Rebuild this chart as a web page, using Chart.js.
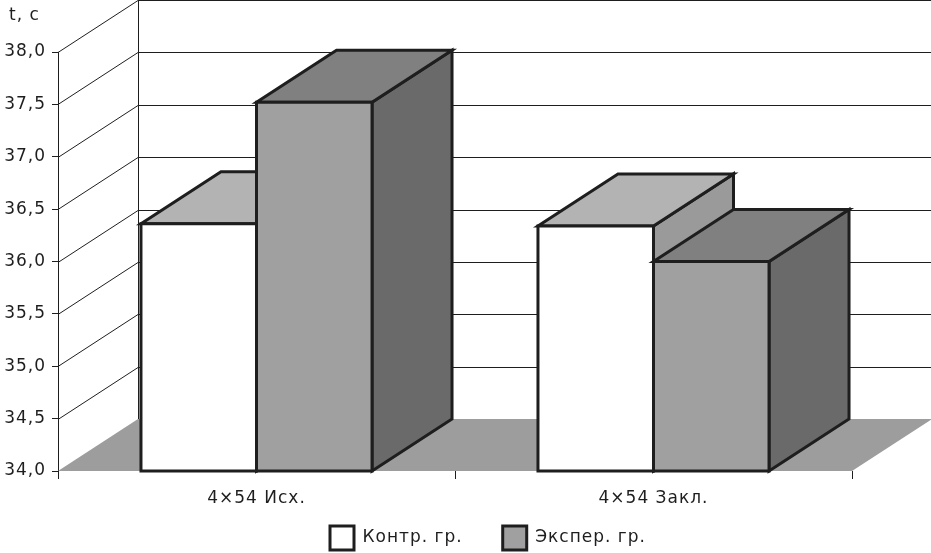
<!DOCTYPE html>
<html>
<head>
<meta charset="utf-8">
<script src="https://cdn.jsdelivr.net/npm/chart.js@4.4.0/dist/chart.umd.min.js"></script>
<style>
  html, body { margin: 0; padding: 0; background: #fff; }
</style>
</head>
<body>
<canvas id="chart" width="931" height="553"></canvas>
<script>
// data
const categories = ['4×54 Исх.', '4×54 Закл.'];
const seriesNames = ['Контр. гр.', 'Экспер. гр.'];
const controlGroup = [36.36, 36.34];
const experGroup = [37.52, 36.0];
const yTickLabels = ['34,0', '34,5', '35,0', '35,5', '36,0', '36,5', '37,0', '37,5', '38,0'];
const axisUnit = 't, c';

const FONT = '"DejaVu Sans", sans-serif';
const FSIZE = 17;
const INK = '#1e1e1e';
const SPACING = '1px';
const LEGEND_PAD = 40;
// depth of the fake 3d box
const DX = 80, DY = -52;
// front / top / side shades per series
const shades = [
  { front: '#ffffff', top: '#b3b3b3', side: '#9a9a9a' },
  { front: '#a0a0a0', top: '#808080', side: '#6a6a6a' }
];

function poly(ctx, pts, fill) {
  ctx.beginPath();
  ctx.moveTo(pts[0][0], pts[0][1]);
  for (let k = 1; k < pts.length; k++) ctx.lineTo(pts[k][0], pts[k][1]);
  ctx.closePath();
  ctx.fillStyle = fill;
  ctx.fill();
  ctx.stroke();
}

const box3d = {
  id: 'box3d',
  beforeUpdate(chart) { chart.ctx.letterSpacing = SPACING; },
  beforeDraw(chart) { chart.ctx.letterSpacing = SPACING; },
  afterLayout(chart) {
    // wide legend spacing: move it down/right and give the category labels room again
    const lg = chart.legend;
    lg.top += 7; lg.bottom += 7;
    lg.left += 62; lg.right += 62;
    const x = chart.scales.x;
    x.bottom = x.top + 40;
  },
  beforeDatasetsDraw(chart) {
    const { ctx, chartArea: a, scales: { y } } = chart;
    ctx.save();

    // floor
    ctx.fillStyle = '#9d9d9d';
    ctx.beginPath();
    ctx.moveTo(a.left, a.bottom);
    ctx.lineTo(a.right, a.bottom);
    ctx.lineTo(a.right + DX, a.bottom + DY);
    ctx.lineTo(a.left + DX, a.bottom + DY);
    ctx.closePath();
    ctx.fill();

    // side wall diagonals + back wall grid
    ctx.strokeStyle = INK;
    ctx.lineWidth = 1;
    y.ticks.forEach(t => {
      if (t.value <= y.min) return;
      const py = Math.round(y.getPixelForValue(t.value)) + 0.5;
      ctx.beginPath();
      ctx.moveTo(a.left, py);
      ctx.lineTo(a.left + DX, py + DY);
      ctx.lineTo(a.right + DX, py + DY);
      ctx.stroke();
    });
    ctx.beginPath();
    ctx.moveTo(a.left + DX + 0.5, a.top + DY);
    ctx.lineTo(a.left + DX + 0.5, a.bottom + DY);
    ctx.moveTo(a.right + DX - 0.5, a.top + DY);
    ctx.lineTo(a.right + DX - 0.5, a.bottom + DY);
    ctx.stroke();

    // boxes, left to right so the nearer faces cover the others
    ctx.lineWidth = 3;
    ctx.lineJoin = 'miter';
    ctx.strokeStyle = INK;
    const metas = chart.data.datasets.map((d, i) => chart.getDatasetMeta(i));
    chart.data.labels.forEach((lbl, j) => {
      metas.forEach((m, i) => {
        const el = m.data[j];
        const x0 = el.x - el.width / 2, x1 = el.x + el.width / 2;
        const yt = el.y, yb = Math.min(el.base, a.bottom);
        const s = shades[i];
        poly(ctx, [[x1, yt], [x1 + DX, yt + DY], [x1 + DX, yb + DY], [x1, yb]], s.side);
        poly(ctx, [[x0, yt], [x1, yt], [x1 + DX, yt + DY], [x0 + DX, yt + DY]], s.top);
        poly(ctx, [[x0, yt], [x1, yt], [x1, yb], [x0, yb]], s.front);
      });
    });

    // unit label over the value axis
    ctx.fillStyle = INK;
    ctx.font = FSIZE + 'px ' + FONT;
    ctx.textAlign = 'left';
    ctx.textBaseline = 'alphabetic';
    ctx.fillText(axisUnit, 9, 20);

    ctx.restore();
    return false;
  }
};

new Chart(document.getElementById('chart'), {
  type: 'bar',
  data: {
    labels: categories,
    datasets: [
      { label: seriesNames[0], data: controlGroup, backgroundColor: shades[0].front, borderColor: INK, borderWidth: 3 },
      { label: seriesNames[1], data: experGroup, backgroundColor: shades[1].front, borderColor: INK, borderWidth: 3 }
    ]
  },
  options: {
    responsive: false,
    animation: false,
    devicePixelRatio: 1,
    layout: { padding: { top: 52, right: 79, left: 0, bottom: 0 } },
    datasets: { bar: { categoryPercentage: 0.582, barPercentage: 1 } },
    plugins: {
      tooltip: { enabled: false },
      legend: {
        position: 'bottom',
        labels: {
          boxWidth: 24,
          boxHeight: 24,
          padding: LEGEND_PAD,
          color: INK,
          font: { family: FONT, size: FSIZE }
        }
      }
    },
    scales: {
      x: {
        // 553 - 471 - legend height (34 + padding)
        afterFit: s => { s.height = 553 - 471 - 34 - LEGEND_PAD; },
        grid: { drawOnChartArea: false, drawTicks: true, tickLength: 8, color: INK, offset: true },
        border: { display: false },
        ticks: { color: INK, padding: 9, font: { family: FONT, size: FSIZE } }
      },
      y: {
        min: 34,
        max: 38,
        afterFit: s => { s.width = 58; },
        grid: { drawOnChartArea: false, drawTicks: true, tickLength: 6, color: INK },
        border: { display: true, color: INK, width: 1 },
        ticks: {
          stepSize: 0.5,
          padding: 6,
          color: INK,
          font: { family: FONT, size: FSIZE },
          callback: (v, i) => yTickLabels[i]
        }
      }
    }
  },
  plugins: [box3d]
});
</script>
</body>
</html>
